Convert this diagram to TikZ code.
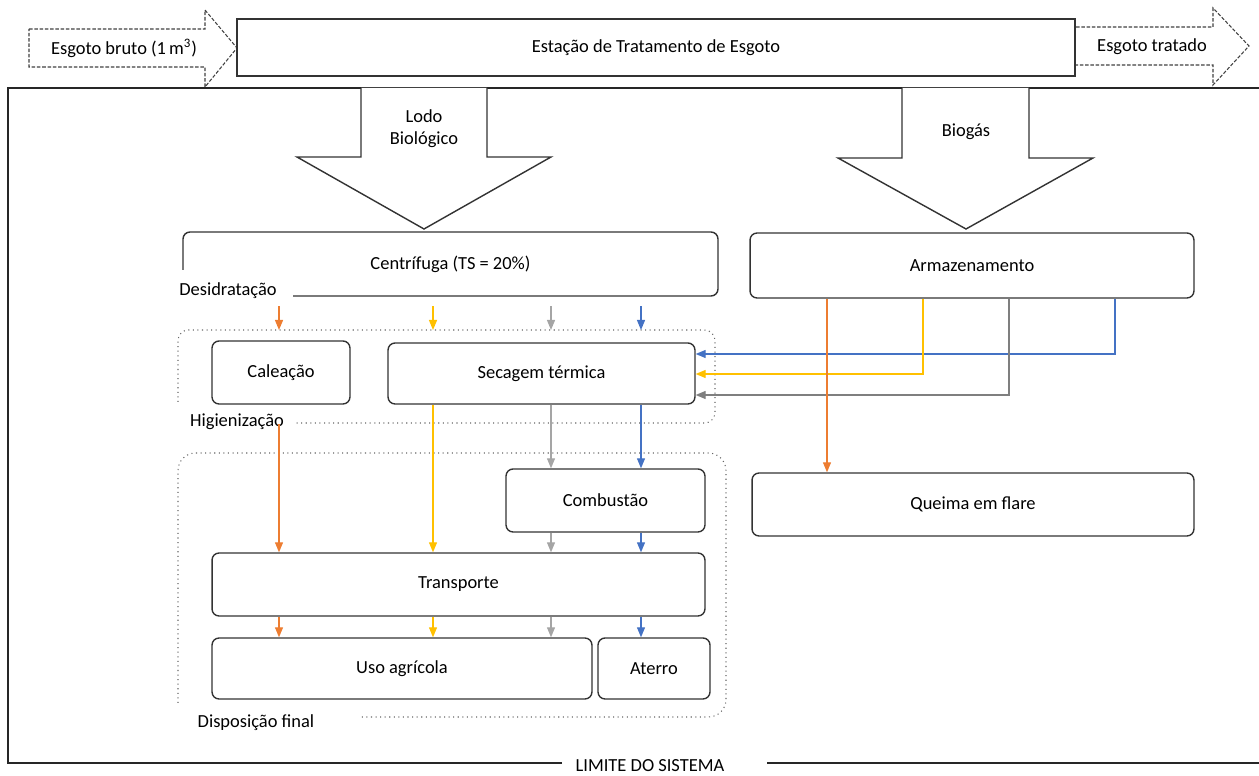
\documentclass[tikz,border=0pt]{standalone}
\usepackage{fontspec}
\setmainfont{Carlito}
\usetikzlibrary{arrows.meta}

\definecolor{flowor}{HTML}{ED7D31}
\definecolor{flowye}{HTML}{FFC000}
\definecolor{flowgr}{HTML}{A5A5A5}
\definecolor{flowbl}{HTML}{4472C4}
\definecolor{flowdg}{HTML}{7F7F7F}

\begin{document}
\begin{tikzpicture}[
    x=0.02cm, y=-0.02cm,
    font=\fontsize{10.5}{12.5}\selectfont,
    box/.style={draw=black!80, line width=0.8pt, rounded corners=4pt, align=center, inner sep=2pt},
    plainbox/.style={draw=black!80, line width=0.8pt, align=center},
    txt/.style={align=center, inner sep=1pt},
    bigarrow/.style={draw=black!80, line width=0.8pt, fill=white},
    dasharrow/.style={draw=black!75, line width=0.6pt, dash pattern=on 2pt off 1pt},
    grpline/.style={draw=black!60, line width=0.6pt, dotted, rounded corners=8pt},
    flow/.style={-{Triangle[length=2mm,width=1.6mm]}, line width=0.7pt},
    orflow/.style={flow, draw=flowor},
    yeflow/.style={flow, draw=flowye},
    grflow/.style={flow, draw=flowgr},
    blflow/.style={flow, draw=flowbl},
    dgflow/.style={flow, draw=flowdg}
]
\useasboundingbox (0,0) rectangle (1259,776);

% limite do sistema
\draw[line width=0.8pt, black!85] (562,763) -- (8,763) -- (8,88) -- (1259,88);
\draw[line width=0.8pt, black!85] (767,763) -- (1259,763);
\node[txt, anchor=base] (limite) at (650,772) {LIMITE DO SISTEMA};

% entrada e saida
\draw[dasharrow] (29,29) -- (205,29) -- (205,10) -- (237,48) -- (205,87) -- (205,67) -- (29,67) -- cycle;
\draw[dasharrow] (1076,27) -- (1213,27) -- (1213,8) -- (1249,46) -- (1213,85) -- (1213,65) -- (1076,65);
\node[txt] (bruto) at (124,48) {Esgoto bruto (1\,m\textsuperscript{3})};
\node[txt] (tratado) at (1152,47) {Esgoto tratado};
\node[plainbox, fill=white, minimum width=16.76cm, minimum height=1.14cm] (ete) at (656,47.5) {Estação de Tratamento de Esgoto};

% setas grandes
\draw[bigarrow] (361,88) -- (361,157) -- (297,157) -- (424,229) -- (551,157) -- (487,157) -- (487,88);
\node[txt] (lodo) at (424,129) {Lodo\\Biológico};
\draw[bigarrow] (902,88) -- (902,158) -- (838,158) -- (966,229) -- (1093,158) -- (1029,158) -- (1029,88);
\node[txt] (biogas) at (966,132) {Biogás};

% desidratacao
\node[txt, minimum width=10.7cm, minimum height=1.28cm] (centrifuga) at (450.5,264) {Centrífuga (TS = 20\%)};
\draw[draw=black!80, line width=0.8pt, rounded corners=4pt] (183,270) |- (718,232) |- (293,296);
\node[txt] (deslbl) at (228,291) {Desidratação};

\node[box, minimum width=8.88cm, minimum height=1.3cm] (armazenamento) at (972,265.5) {Armazenamento};

% higienizacao
\draw[grpline, rounded corners=6pt] (178,402) |- (715,330) |- (296,423);
\node[txt] (higlbl) at (237,422) {Higienização};
\node[box, minimum width=2.76cm, minimum height=1.26cm] (caleacao) at (281,372.5) {Caleação};
\node[box, minimum width=6.14cm, minimum height=1.22cm] (secagem) at (541.5,373.5) {Secagem térmica};

% disposicao final
\draw[grpline, rounded corners=10pt] (178,703) |- (726,453) |- (361,717);
\node[txt] (displbl) at (256,723) {Disposição final};
\node[box, minimum width=3.98cm, minimum height=1.26cm] (combustao) at (605.5,500.5) {Combustão};
\node[box, minimum width=9.86cm, minimum height=1.26cm] (transporte) at (458.5,584.5) {Transporte};
\node[box, minimum width=7.6cm, minimum height=1.22cm] (uso) at (402,668.5) {Uso agrícola};
\node[box, minimum width=2.24cm, minimum height=1.22cm] (aterro) at (654,668.5) {Aterro};

\node[box, minimum width=8.84cm, minimum height=1.26cm] (queima) at (973,504.5) {Queima em flare};

% colunas e linhas auxiliares
\coordinate (col1) at (279,0);
\coordinate (col2) at (433,0);
\coordinate (col3) at (551,0);
\coordinate (col4) at (641,0);
\coordinate (higtop) at (0,330);
\coordinate (higbot) at (0,424);
\coordinate (a1) at (827,0);
\coordinate (a2) at (923,0);
\coordinate (a3) at (1009,0);
\coordinate (a4) at (1115,0);
\coordinate (r1) at (0,354);
\coordinate (r2) at (0,374);
\coordinate (r3) at (0,395);

% lodo
\draw[orflow, shorten <=0.2cm] (centrifuga.south -| col1) -- (higtop -| col1);
\draw[yeflow, shorten <=0.2cm] (centrifuga.south -| col2) -- (higtop -| col2);
\draw[grflow, shorten <=0.2cm] (centrifuga.south -| col3) -- (higtop -| col3);
\draw[blflow, shorten <=0.2cm] (centrifuga.south -| col4) -- (higtop -| col4);
\draw[orflow] (higbot -| col1) -- (transporte.north -| col1);
\draw[yeflow] (secagem.south -| col2) -- (transporte.north -| col2);
\draw[grflow] (secagem.south -| col3) -- (combustao.north -| col3);
\draw[blflow] (secagem.south -| col4) -- (combustao.north -| col4);
\draw[grflow] (combustao.south -| col3) -- (transporte.north -| col3);
\draw[blflow] (combustao.south -| col4) -- (transporte.north -| col4);
\draw[orflow] (transporte.south -| col1) -- (uso.north -| col1);
\draw[yeflow] (transporte.south -| col2) -- (uso.north -| col2);
\draw[grflow] (transporte.south -| col3) -- (uso.north -| col3);
\draw[blflow] (transporte.south -| col4) -- (aterro.north -| col4);

% biogas
\draw[blflow] (armazenamento.south -| a4) |- (secagem.east |- r1);
\draw[yeflow] (armazenamento.south -| a2) |- (secagem.east |- r2);
\draw[dgflow] (armazenamento.south -| a3) |- (secagem.east |- r3);
\draw[orflow] (armazenamento.south -| a1) -- (queima.north -| a1);
\end{tikzpicture}
\end{document}
